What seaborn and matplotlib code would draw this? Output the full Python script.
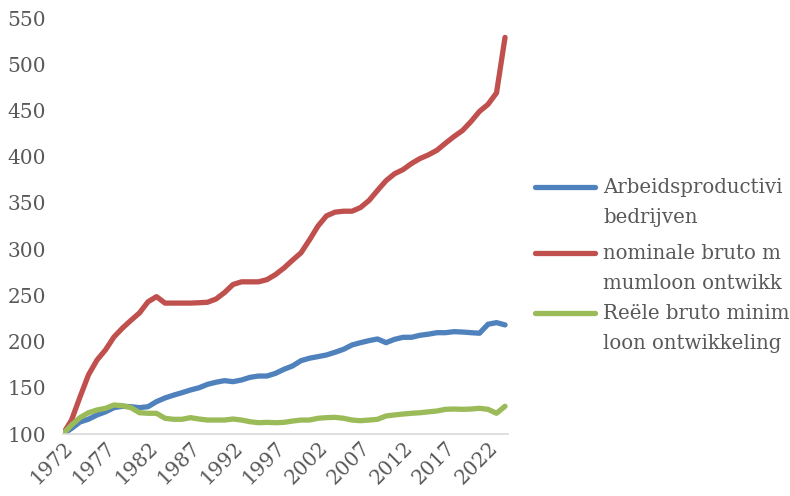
import matplotlib.pyplot as plt
from matplotlib.lines import Line2D
import seaborn as sns
import pandas as pd

years = list(range(1972, 2025))

productiviteit = [100, 106, 113, 116, 120.6, 124, 128.5, 130, 129.5, 128.5,
                  129.5, 135, 139, 142, 144.7, 147.6, 150, 153.7, 156, 157.7,
                  156.6, 158.4, 161.3, 162.7, 162.7, 165.6, 170, 173.6, 179.3, 182,
                  183.7, 185.5, 188.4, 191.6, 196.3, 198.8, 201, 202.8, 198.8, 202.4,
                  204.6, 204.6, 206.8, 208, 209.6, 209.6, 210.7, 210.3, 209.6, 209,
                  218.7, 220.5, 218]

nominaal = [100, 115, 140, 164, 180, 191, 205, 214.6, 223, 231,
            243, 248.6, 241.6, 241.6, 241.6, 241.6, 242, 242.5, 246, 253,
            261.7, 264.6, 264.6, 264.6, 267, 272.5, 279.6, 288, 296, 310,
            325, 336, 340, 341, 341, 345, 352.6, 363.5, 374, 381.5,
            386, 392.6, 398, 402, 407, 414.6, 421.8, 428.3, 438, 449,
            456.6, 469, 529]

reeel = [100, 109.7, 117.7, 123, 126, 127.8, 131.4, 130.6, 128.5, 123,
         122.4, 122.4, 117, 115.9, 115.9, 117.7, 116.2, 115.1, 115.1, 115.1,
         116.2, 115.1, 113.3, 112.2, 112.6, 112.2, 112.6, 114, 115.1, 115.1,
         117, 117.7, 118, 117, 115.1, 114.4, 115.1, 115.9, 119.5, 120.6,
         121.6, 122.4, 123, 124, 124.9, 126.7, 127, 126.7, 127, 127.8,
         126.7, 122.4, 130]

series = ["Arbeidsproductiviteit bedrijven",
          "nominale bruto minimumloon ontwikkeling",
          "Reële bruto minimumloon ontwikkeling"]
# legend text as far as it is visible in the chart (cut at the right edge)
legend_lines = [["Arbeidsproductivi", "bedrijven"],
                ["nominale bruto m", "mumloon ontwikk"],
                ["Reële bruto minim", "loon ontwikkeling"]]
colors = ["#4F81BD", "#C0504D", "#9BBB59"]

df = pd.DataFrame({
    "jaar": years * 3,
    "waarde": productiviteit + nominaal + reeel,
    "reeks": [series[0]] * len(years) + [series[1]] * len(years) + [series[2]] * len(years),
})

sns.set_style("white")
plt.rcParams['font.family'] = ['DejaVu Serif']

fig = plt.figure(figsize=(7.9, 4.96), dpi=100)
ax = fig.add_axes([63 / 790, 62 / 496, 445 / 790, 416 / 496])

sns.lineplot(data=df, x="jaar", y="waarde", hue="reeks", palette=colors,
             linewidth=3.8, legend=False, ax=ax, solid_capstyle="round")

ax.set_xlim(1972, 2024.35)
ax.set_ylim(100, 550)
ax.set_yticks(range(100, 551, 50))
ax.set_xticks(range(1972, 2023, 5))
ax.set_xlabel("")
ax.set_ylabel("")

for s in ["top", "right", "left"]:
    ax.spines[s].set_visible(False)
ax.spines["bottom"].set_color("#D9D9D9")
ax.spines["bottom"].set_linewidth(1.2)
ax.tick_params(axis="y", length=0, pad=12, labelsize=14.5, labelcolor="#595959")
ax.tick_params(axis="x", length=0, pad=3, labelsize=14.5, labelcolor="#595959")
plt.setp(ax.get_xticklabels(), rotation=45, ha="right", rotation_mode="anchor")

# legend drawn by hand so the line sits at the first text line
leg_y = [187, 253, 313]
for lines, col, yy in zip(legend_lines, colors, leg_y):
    yf = 1 - yy / 496
    fig.add_artist(Line2D([535 / 790, 595 / 790], [yf, yf], color=col,
                          linewidth=3.8, solid_capstyle="round"))
    for k, txt in enumerate(lines):
        fig.text(603 / 790, 1 - (yy + 6 + 30 * k) / 496, txt, ha="left",
                 va="baseline", fontsize=14.2, color="#595959")

plt.savefig("out.png", dpi=100)
